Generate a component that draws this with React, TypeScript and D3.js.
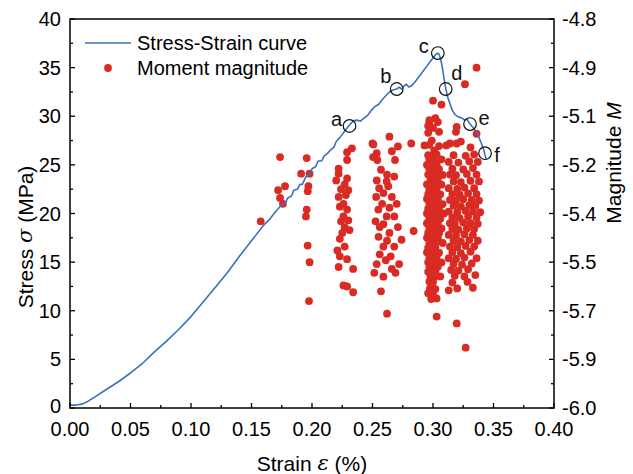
import React from "react";
import * as d3 from "d3";

// ---------- Data ----------
const curveStrain = [
  0, 0.005, 0.01, 0.015, 0.02, 0.03, 0.04, 0.05, 0.06, 0.07, 0.08, 0.09, 0.1, 0.11, 0.12, 0.13, 0.14, 0.15, 0.16,
  0.165, 0.17, 0.175, 0.178, 0.18, 0.183, 0.185, 0.188, 0.19, 0.192, 0.195, 0.198, 0.2, 0.203, 0.205, 0.208, 0.21,
  0.213, 0.215, 0.218, 0.22, 0.223, 0.226, 0.229, 0.231, 0.234, 0.237, 0.24, 0.243, 0.246, 0.249, 0.252, 0.255,
  0.258, 0.261, 0.264, 0.267, 0.27, 0.272, 0.274, 0.276, 0.278, 0.28, 0.282, 0.285, 0.288, 0.291, 0.294, 0.297,
  0.3, 0.302, 0.304, 0.305, 0.306, 0.307, 0.308, 0.309, 0.31, 0.311, 0.312, 0.314, 0.316, 0.318, 0.32, 0.322,
  0.324, 0.326, 0.328, 0.33, 0.332, 0.334, 0.336, 0.338, 0.34, 0.342, 0.343, 0.344,
];
const curveStress = [
  0.3, 0.3, 0.4, 0.7, 1.1, 1.9, 2.7, 3.6, 4.6, 5.8, 6.9, 8.1, 9.4, 10.9, 12.4, 13.9, 15.6, 17.2, 18.8,
  19.4, 20.2, 20.9, 21.1, 21.6, 21.8, 22.4, 22.5, 23.0, 23.0, 23.8, 24.0, 24.6, 24.8, 25.4, 25.4, 25.9,
  26.2, 26.5, 26.8, 27.4, 27.8, 28.3, 28.8, 29.1, 29.5, 29.6, 29.5, 29.8, 30.1, 30.6, 31.0, 31.2,
  31.7, 32.1, 32.5, 32.7, 32.8, 33.0, 32.8, 33.1, 33.3, 33.0, 33.1, 33.5, 34.0, 34.5, 35.0, 35.5,
  36.0, 36.3, 36.5, 36.4, 36.0, 35.5, 34.8, 34.0, 33.2, 32.6, 32.0, 31.3, 30.6, 30.2, 30.0, 29.9,
  29.8, 29.6, 29.7, 29.3, 29.0, 28.7, 28.4, 27.8, 27.2, 26.5, 26.0, 25.6,
];

// marked points on the curve
const markLabels = ["a", "b", "c", "d", "e", "f"];
const markStrain = [0.231, 0.27, 0.304, 0.3105, 0.3306, 0.343];
const markStress = [29.0, 32.8, 36.5, 32.8, 29.2, 26.2];

// Moment magnitude events: [strain %, magnitude M]
const events: [number, number][] = [
  // early sparse events
  [0.1576, -5.424], [0.1736, -5.226], [0.172, -5.328], [0.1736, -5.352], [0.176, -5.37], [0.1777, -5.316],
  [0.1956, -5.229], [0.191, -5.277], [0.198, -5.277], [0.197, -5.316], [0.1965, -5.331], [0.1956, -5.388],
  [0.195, -5.409], [0.1964, -5.499], [0.198, -5.55], [0.1975, -5.67],
  // band near 0.225
  [0.233, -5.199], [0.229, -5.211], [0.229, -5.235], [0.222, -5.262], [0.222, -5.277], [0.22, -5.298],
  [0.229, -5.292], [0.222, -5.349], [0.228, -5.343], [0.226, -5.37], [0.223, -5.379], [0.229, -5.388],
  [0.226, -5.409], [0.23, -5.421], [0.227, -5.442], [0.231, -5.451], [0.223, -5.478], [0.227, -5.502],
  [0.223, -5.532], [0.229, -5.541], [0.222, -5.565], [0.234, -5.571], [0.226, -5.622], [0.229, -5.625],
  [0.234, -5.643], [0.224, -5.325], [0.227, -5.31], [0.225, -5.46], [0.224, -5.424], [0.23, -5.328],
  [0.221, -5.514],
  // band near 0.26
  [0.264, -5.163], [0.25, -5.184], [0.2507, -5.187], [0.271, -5.193], [0.2535, -5.214], [0.254, -5.235],
  [0.2686, -5.235], [0.2535, -5.298], [0.2617, -5.301], [0.268, -5.286], [0.259, -5.337], [0.266, -5.349],
  [0.253, -5.349], [0.2548, -5.388], [0.2617, -5.409], [0.268, -5.409], [0.256, -5.442], [0.264, -5.46],
  [0.274, -5.481], [0.255, -5.472], [0.259, -5.502], [0.268, -5.502], [0.265, -5.532], [0.272, -5.556],
  [0.266, -5.571], [0.2515, -5.583], [0.259, -5.595], [0.257, -5.64], [0.262, -5.709], [0.282, -5.184],
  [0.284, -5.454], [0.257, -5.265], [0.262, -5.28], [0.2555, -5.322], [0.263, -5.316], [0.258, -5.37],
  [0.264, -5.382], [0.27, -5.37], [0.2525, -5.424], [0.259, -5.433], [0.271, -5.442], [0.262, -5.484],
  [0.256, -5.526], [0.261, -5.544], [0.2535, -5.556], [0.269, -5.583], [0.2505, -5.226], [0.266, -5.208],
  // upper events near the peak
  [0.3, -5.052], [0.307, -5.064], [0.297, -5.112], [0.302, -5.106], [0.296, -5.13], [0.3196, -5.133],
  [0.319, -5.148], [0.336, -5.154], [0.3264, -5.001], [0.336, -4.95],
  // dense band near 0.30
  [0.297, -5.121], [0.304, -5.118], [0.3, -5.136], [0.296, -5.151], [0.305, -5.148], [0.299, -5.175],
  [0.293, -5.19], [0.297, -5.188], [0.305, -5.192], [0.311, -5.19], [0.301, -5.205],
  [0.296, -5.22], [0.299, -5.223], [0.303, -5.218], [0.297, -5.235], [0.301, -5.238], [0.307, -5.233],
  [0.295, -5.25], [0.299, -5.252], [0.303, -5.248], [0.297, -5.265], [0.3, -5.267], [0.305, -5.263],
  [0.296, -5.28], [0.299, -5.282], [0.302, -5.279], [0.308, -5.281], [0.298, -5.295], [0.301, -5.297],
  [0.304, -5.294], [0.295, -5.31], [0.299, -5.312], [0.302, -5.309], [0.307, -5.311], [0.297, -5.325],
  [0.3, -5.327], [0.303, -5.324], [0.296, -5.34], [0.299, -5.342], [0.302, -5.339], [0.306, -5.341],
  [0.295, -5.355], [0.298, -5.357], [0.301, -5.354], [0.304, -5.356], [0.297, -5.37], [0.3, -5.372],
  [0.303, -5.369], [0.308, -5.371], [0.296, -5.385], [0.299, -5.387], [0.302, -5.384], [0.305, -5.386],
  [0.295, -5.4], [0.298, -5.402], [0.301, -5.399], [0.304, -5.401], [0.309, -5.4], [0.297, -5.415],
  [0.3, -5.417], [0.303, -5.414], [0.306, -5.416], [0.295, -5.43], [0.298, -5.432], [0.301, -5.429],
  [0.304, -5.431], [0.297, -5.445], [0.3, -5.447], [0.303, -5.444], [0.307, -5.446], [0.296, -5.46],
  [0.299, -5.462], [0.302, -5.459], [0.305, -5.461], [0.295, -5.475], [0.298, -5.477], [0.301, -5.474],
  [0.304, -5.476], [0.297, -5.49], [0.3, -5.492], [0.303, -5.489], [0.308, -5.491], [0.296, -5.505],
  [0.299, -5.507], [0.302, -5.504], [0.295, -5.52], [0.298, -5.522], [0.301, -5.519], [0.305, -5.521],
  [0.297, -5.535], [0.3, -5.537], [0.303, -5.534], [0.296, -5.55], [0.299, -5.552], [0.302, -5.549],
  [0.307, -5.551], [0.297, -5.565], [0.3, -5.567], [0.304, -5.564], [0.296, -5.58], [0.299, -5.582],
  [0.302, -5.579], [0.298, -5.595], [0.301, -5.597], [0.306, -5.594], [0.297, -5.61], [0.3, -5.612],
  [0.2975, -5.631], [0.302, -5.633], [0.296, -5.646], [0.3, -5.648], [0.2985, -5.664], [0.303, -5.662],
  [0.303, -5.718], [0.3196, -5.739], [0.327, -5.814],
  // band near 0.325
  [0.314, -5.184], [0.3196, -5.184], [0.323, -5.178], [0.331, -5.196],
  [0.317, -5.22], [0.327, -5.222], [0.334, -5.218], [0.313, -5.241], [0.321, -5.243], [0.33, -5.239],
  [0.337, -5.241], [0.316, -5.262], [0.325, -5.264], [0.333, -5.26], [0.314, -5.28], [0.319, -5.282],
  [0.328, -5.278], [0.336, -5.28], [0.317, -5.301], [0.323, -5.303], [0.331, -5.299], [0.338, -5.301],
  [0.313, -5.322], [0.32, -5.324], [0.326, -5.32], [0.334, -5.322], [0.316, -5.34], [0.322, -5.342],
  [0.329, -5.338], [0.336, -5.34], [0.314, -5.358], [0.319, -5.36], [0.325, -5.356], [0.332, -5.358],
  [0.338, -5.36], [0.317, -5.376], [0.323, -5.378], [0.33, -5.374], [0.335, -5.376], [0.313, -5.394],
  [0.32, -5.396], [0.327, -5.392], [0.333, -5.394], [0.339, -5.396], [0.316, -5.412], [0.322, -5.414],
  [0.329, -5.41], [0.336, -5.412], [0.314, -5.43], [0.318, -5.432], [0.325, -5.428], [0.331, -5.43],
  [0.337, -5.432], [0.316, -5.448], [0.321, -5.45], [0.328, -5.446], [0.334, -5.448], [0.313, -5.466],
  [0.319, -5.468], [0.326, -5.464], [0.333, -5.466], [0.317, -5.484], [0.323, -5.486], [0.33, -5.482],
  [0.337, -5.484], [0.314, -5.502], [0.32, -5.504], [0.327, -5.5], [0.334, -5.502], [0.316, -5.52],
  [0.323, -5.522], [0.331, -5.518], [0.313, -5.538], [0.319, -5.54], [0.326, -5.536], [0.336, -5.538],
  [0.317, -5.556], [0.324, -5.558], [0.332, -5.554], [0.315, -5.574], [0.321, -5.576], [0.329, -5.572],
  [0.318, -5.592], [0.326, -5.594], [0.335, -5.59], [0.316, -5.613], [0.3285, -5.611], [0.32, -5.631],
  [0.333, -5.629], [0.313, -5.637],
];

const xTicks = [0, 0.05, 0.1, 0.15, 0.2, 0.25, 0.3, 0.35, 0.4];
const yTicks = [0, 5, 10, 15, 20, 25, 30, 35, 40];
const mTickValues = [-6.0, -5.85, -5.7, -5.55, -5.4, -5.25, -5.1, -4.95, -4.8];
const mTickLabels = ["-6.0", "-5.9", "-5.7", "-5.5", "-5.4", "-5.2", "-5.1", "-4.9", "-4.8"];
const legendLabels = ["Stress-Strain curve", "Moment magnitude"];

// ---------- Styles / layout ----------
const W = 633;
const H = 474;
const L = 70, R = 554, T = 19, B = 408;
const BLUE = "#3c70c0";
const RED = "#d92b24";
const FONT = "'Liberation Sans', Arial, Helvetica, sans-serif";
const FS = 20;
const FT = 21;
const labelOffsets: [number, number][] = [[-13, -7], [-11, -13], [-14, -7], [11, -16], [14, -6], [12, 2]];

export default function App() {
  const x = d3.scaleLinear().domain([0, 0.4]).range([L, R]);
  const y = d3.scaleLinear().domain([0, 40]).range([B, T]);
  const yM = d3.scaleLinear().domain([-6, -4.8]).range([B, T]);

  const line = d3
    .line<number>()
    .x((_, i) => x(curveStrain[i]))
    .y((d) => y(d));
  const path = line(curveStress) || "";

  const xMinor = d3.range(0, 0.4001, 0.025);
  const yMinor = d3.range(0, 40.001, 2.5);
  const mMinor = d3.range(0, 17).map((i) => -6 + i * 0.075);

  return (
    <svg
      width={W}
      height={H}
      style={{ position: "absolute", left: 0, top: 0, background: "#fff" }}
      fontFamily={FONT}
    >
      {/* scatter */}
      <g fill={RED}>
        {events.map((d, i) => (
          <circle key={i} cx={x(d[0])} cy={yM(d[1])} r={3.9} />
        ))}
      </g>

      {/* curve */}
      <path d={path} fill="none" stroke={BLUE} strokeWidth={1.6} strokeLinejoin="round" />

      {/* marks */}
      {markLabels.map((lab, i) => {
        const cx = x(markStrain[i]);
        const cy = y(markStress[i]);
        return (
          <g key={lab}>
            <circle cx={cx} cy={cy} r={6.3} fill="none" stroke="#111" strokeWidth={1.2} />
            <text
              x={cx + labelOffsets[i][0]}
              y={cy + labelOffsets[i][1]}
              fontSize={FS}
              textAnchor="middle"
              dominantBaseline="central"
              fill="#111"
            >
              {lab}
            </text>
          </g>
        );
      })}

      {/* frame */}
      <rect x={L} y={T} width={R - L} height={B - T} fill="none" stroke="#000" strokeWidth={1.5} />

      {/* x ticks */}
      {xMinor.map((v, i) => (
        <line key={"xm" + i} x1={x(v)} x2={x(v)} y1={B} y2={B - (i % 2 === 0 ? 5 : 3)} stroke="#000" strokeWidth={1.3} />
      ))}
      {xTicks.map((v) => (
        <text key={"xt" + v} x={x(v)} y={B + 21} fontSize={FS} textAnchor="middle" dominantBaseline="central">
          {v.toFixed(2)}
        </text>
      ))}

      {/* left y ticks */}
      {yMinor.map((v, i) => (
        <line key={"ym" + i} x1={L} x2={L + (i % 2 === 0 ? 5 : 3)} y1={y(v)} y2={y(v)} stroke="#000" strokeWidth={1.3} />
      ))}
      {yTicks.map((v) => (
        <text key={"yt" + v} x={L - 9} y={y(v) - (v === 0 ? 2 : 0)} fontSize={FS} textAnchor="end" dominantBaseline="central">
          {v}
        </text>
      ))}

      {/* right M ticks */}
      {mMinor.map((v, i) => (
        <line key={"mm" + i} x1={R} x2={R - (i % 2 === 0 ? 5 : 3)} y1={yM(v)} y2={yM(v)} stroke="#000" strokeWidth={1.3} />
      ))}
      {mTickValues.map((v, i) => (
        <text key={"mt" + i} x={R + 8} y={yM(v)} fontSize={FS} textAnchor="start" dominantBaseline="central">
          {mTickLabels[i]}
        </text>
      ))}

      {/* axis titles */}
      <text x={312} y={463} fontSize={FT} textAnchor="middle" dominantBaseline="central">
        Strain <tspan fontStyle="italic" fontFamily="'DejaVu Serif', serif">ε</tspan> (%)
      </text>
      <text
        transform={`translate(25,237) rotate(-90)`}
        fontSize={FT}
        textAnchor="middle"
        dominantBaseline="central"
      >
        Stress <tspan fontStyle="italic" fontFamily="'DejaVu Serif', serif">σ</tspan> (MPa)
      </text>
      <text
        transform={`translate(613,163) rotate(-90)`}
        fontSize={FT}
        textAnchor="middle"
        dominantBaseline="central"
      >
        Magnitude <tspan fontStyle="italic">M</tspan>
      </text>

      {/* legend */}
      <line x1={85} x2={131} y1={43} y2={43} stroke={BLUE} strokeWidth={1.6} />
      <text x={137} y={43} fontSize={FS} dominantBaseline="central">
        {legendLabels[0]}
      </text>
      <circle cx={108} cy={68} r={3.9} fill={RED} />
      <text x={137} y={68} fontSize={FS} dominantBaseline="central">
        {legendLabels[1]}
      </text>
    </svg>
  );
}
